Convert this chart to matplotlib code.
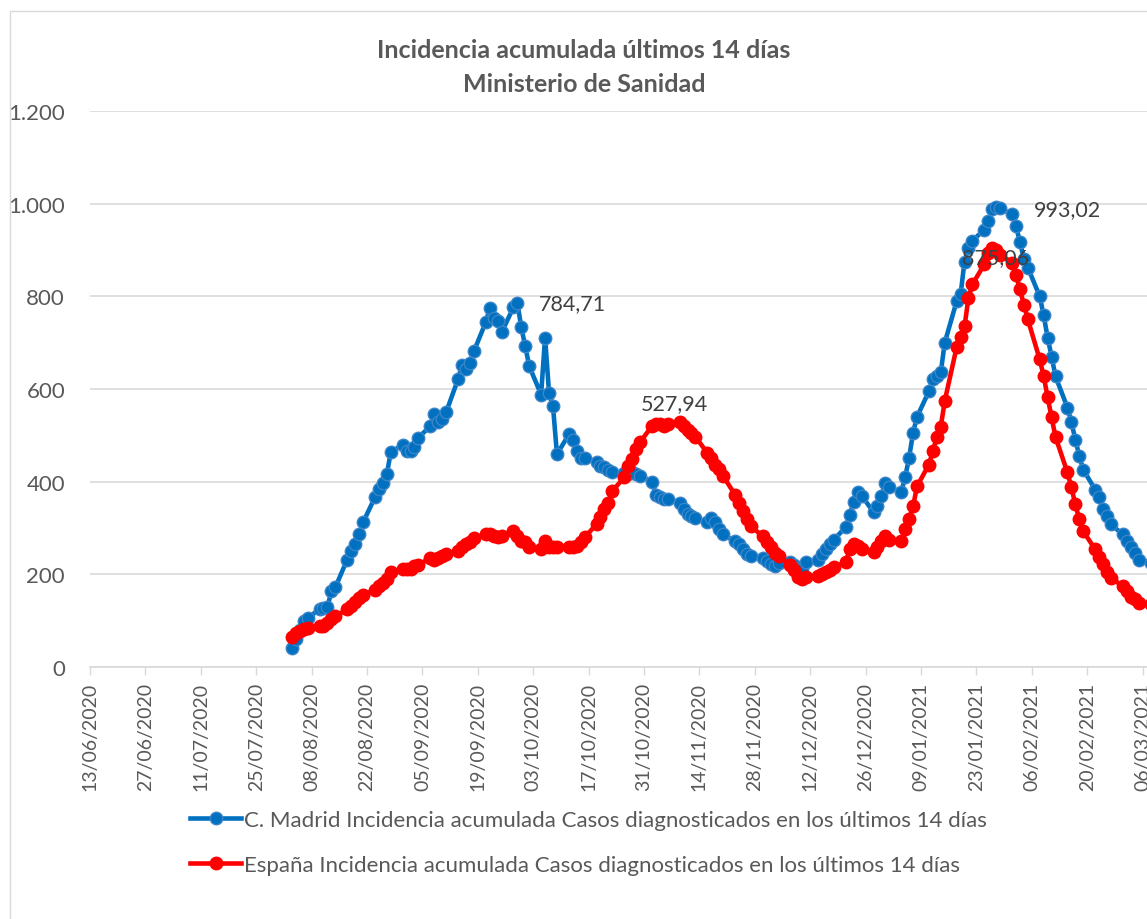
import numpy as np
import pandas as pd
import matplotlib
matplotlib.use('Agg')
import matplotlib.pyplot as plt
import matplotlib.dates as mdates
from matplotlib.patches import Rectangle
from matplotlib.ticker import FuncFormatter, MultipleLocator

plt.rcParams['font.family'] = ['Lato', 'DejaVu Sans']

# one row per week (Mon..Fri), first row = week of 03/08/2020
madrid = [
    42, 60, 80, 99, 105,
    125, 128, 130, 163, 172,
    232, 250, 265, 286, 312,
    366, 385, 398, 416, 463,
    480, 466, 466, 474, 495,
    520, 545, 528, 535, 550,
    621, 651, 643, 657, 681,
    744, 774, 754, 746, 722,
    776, 784.71, 733, 692, 649,
    588, 711, 592, 563, 459,
    502, 491, 466, 452, 452,
    442, 433, 431, 426, 420,
    418, 417, 420, 416, 412,
    400, 372, 366, 362, 362,
    355, 340, 330, 325, 322,
    312, 322, 312, 297, 286,
    271, 265, 254, 243, 240,
    236, 228, 222, 218, 224,
    226, 220, 214, 211, 226,
    232, 243, 254, 265, 275,
    302, 329, 357, 377, 370,
    334, 347, 368, 398, 388,
    377, 410, 452, 506, 540,
    595, 621, 627, 636, 700,
    789, 804, 875.06, 905, 920,
    944, 962, 988, 993.02, 990,
    977, 951, 918, 880, 862,
    800, 759, 711, 670, 627,
    560, 528, 491, 455, 426,
    383, 366, 340, 325, 308,
    286, 271, 260, 247, 232,
    225,
]

espana = [
    64, 74, 77, 81, 85,
    88, 88, 96, 103, 109,
    125, 131, 140, 148, 155,
    167, 174, 182, 190, 204,
    211, 211, 211, 217, 220,
    236, 232, 235, 239, 244,
    250, 258, 265, 270, 278,
    286, 286, 283, 280, 282,
    293, 283, 271, 269, 260,
    254, 271, 258, 258, 258,
    260, 260, 262, 270, 280,
    308, 323, 340, 355, 380,
    409, 433, 448, 470, 485,
    520, 525, 524, 520, 524,
    527.94, 520, 512, 506, 497,
    462, 452, 437, 427, 412,
    372, 355, 336, 319, 304,
    282, 269, 260, 247, 239,
    220, 210, 194, 189, 194,
    196, 200, 204, 210, 215,
    226, 254, 265, 262, 255,
    248, 258, 271, 282, 275,
    271, 297, 319, 347, 390,
    437, 466, 496, 519, 574,
    690, 713, 735, 797, 826,
    869, 894, 905, 901, 890,
    873, 847, 815, 782, 750,
    664, 628, 582, 539, 496,
    420, 388, 351, 319, 293,
    254, 237, 222, 204, 193,
    174, 163, 152, 146, 139,
    135,
]

fechas = pd.bdate_range('2020-08-03', periods=len(madrid))
ticks = pd.date_range('2020-06-13', periods=20, freq='14D')

lab_madrid = 'C. Madrid Incidencia acumulada Casos diagnosticados en los últimos 14 días'
lab_espana = 'España Incidencia acumulada Casos diagnosticados en los últimos 14 días'

gris = '#595959'
grid_c = '#D9D9D9'

fig = plt.figure(figsize=(11.47, 9.2), dpi=100)
fig.patches.append(Rectangle((10/1147, -0.1), 1.2, 1 - 12/920 + 0.1, transform=fig.transFigure,
                             fill=False, edgecolor=grid_c, lw=1))

ax = fig.add_axes([90/1147, (920-668)/920, 1108/1147, 556/920])

ax.plot(fechas, madrid, color='#0070C0', lw=3.3, marker='o', ms=9,
        mfc='#0070C0', mec='#3B84C8', mew=1, label=lab_madrid)
ax.plot(fechas, espana, color='#FF0000', lw=3.3, marker='o', ms=9,
        mfc='#FF0000', mec='#FF0000', mew=1, label=lab_espana)

ax.set_xlim(pd.Timestamp('2020-06-13'), pd.Timestamp('2021-03-20'))
ax.set_ylim(0, 1200)
ax.yaxis.set_major_locator(MultipleLocator(200))
ax.yaxis.set_major_formatter(FuncFormatter(lambda v, p: f'{int(v):,}'.replace(',', '.')))
ax.set_xticks(ticks)
ax.xaxis.set_major_formatter(mdates.DateFormatter('%d/%m/%Y'))
ax.tick_params(axis='x', rotation=90, labelsize=14, labelcolor=gris, color=grid_c,
               length=5.5, width=1, pad=5)
ax.tick_params(axis='y', length=0, labelsize=16, labelcolor=gris, pad=18)
for s in ['top', 'right', 'left']:
    ax.spines[s].set_visible(False)
ax.spines['bottom'].set_color(grid_c)
ax.spines['bottom'].set_linewidth(1.2)
ax.yaxis.grid(True, color=grid_c, lw=1.2)
ax.set_axisbelow(True)

# data labels
def etiqueta(serie, fecha, texto, dx, dy, ha='left'):
    i = list(fechas).index(pd.Timestamp(fecha))
    ax.annotate(texto, (fechas[i], serie[i]), xytext=(dx * 0.72, dy * 0.72),
                textcoords='offset points', ha=ha, va='center', fontsize=15.5, color='#404040')

etiqueta(madrid, '2020-09-29', '784,71', 22, 0)
etiqueta(madrid, '2021-01-28', '993,02', 38, -2)
etiqueta(madrid, '2021-01-20', '875,06', -3, 4)
etiqueta(espana, '2020-11-09', '527,94', -5, 19, ha='center')

fig.text(584/1147, 1 - 51/920, 'Incidencia acumulada últimos 14 días', ha='center', va='center',
         fontsize=18, fontweight='bold', color=gris)
fig.text(584/1147, 1 - 84/920, 'Ministerio de Sanidad', ha='center', va='center',
         fontsize=18, fontweight='bold', color=gris)

fig.legend(loc='upper left', bbox_to_anchor=(190/1147, 1 - 811/920), frameon=False,
           fontsize=16, labelcolor=gris, handlelength=2.3, handletextpad=0.15,
           labelspacing=1.12, borderpad=0, borderaxespad=0)

fig.savefig('out.png', dpi=100)
